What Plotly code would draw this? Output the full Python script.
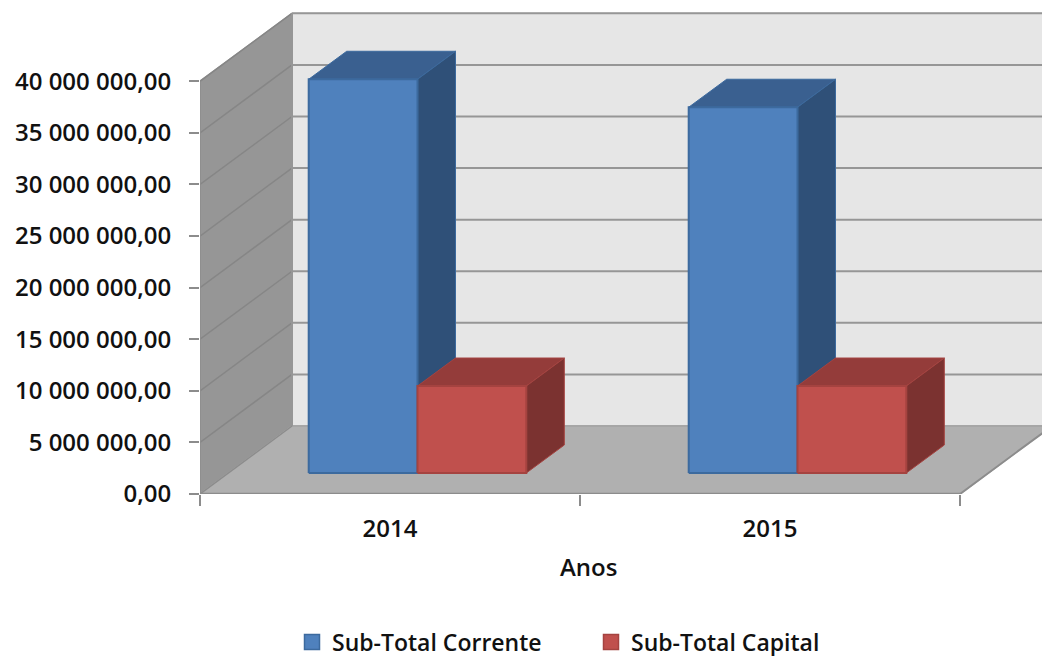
import plotly.graph_objects as go

years = ["2014", "2015"]
corrente = [38160000, 35450000]
capital = [8430000, 8430000]
names = ["Sub-Total Corrente", "Sub-Total Capital"]
tick_values = [0, 5000000, 10000000, 15000000, 20000000, 25000000, 30000000, 35000000, 40000000]
tick_labels = ["0,00", "5 000 000,00", "10 000 000,00", "15 000 000,00", "20 000 000,00",
               "25 000 000,00", "30 000 000,00", "35 000 000,00", "40 000 000,00"]

# pseudo-3D projection, in axis units
PX_X = 1 / 380.0
PX_Y = 40000000 / 412.7
wall_dx, wall_dy = 92 * PX_X, 68 * PX_Y
bar_dx, bar_dy = 38 * PX_X, 28 * PX_Y
inset_dx, inset_dy = 27.5 * PX_X, 21 * PX_Y
bar_w = 108.8 * PX_X
x_end = 2
top = tick_values[-1]
PLOT_H = 494

FONT = "Open Sans"
fig = go.Figure()


def poly(xs, ys, fill, line=None, lw=1.5):
    fig.add_trace(go.Scatter(x=xs + xs[:1], y=ys + ys[:1], mode="lines", fill="toself",
                             fillcolor=fill, line=dict(color=line or fill, width=lw),
                             showlegend=False, hoverinfo="skip"))


def path(xs, ys, color, lw=2):
    fig.add_trace(go.Scatter(x=xs, y=ys, mode="lines", line=dict(color=color, width=lw),
                             showlegend=False, hoverinfo="skip"))


# walls and floor
poly([wall_dx, x_end + wall_dx, x_end + wall_dx, wall_dx], [wall_dy, wall_dy, top + wall_dy, top + wall_dy], "#e6e6e6")
poly([0, 0, wall_dx, wall_dx], [0, top, top + wall_dy, wall_dy], "#969696")
poly([0, x_end, x_end + wall_dx, wall_dx], [0, 0, wall_dy, wall_dy], "#b0b0b0")
for v in tick_values[1:]:
    path([0, wall_dx], [v, v + wall_dy], "#868686", 1.5)
    path([wall_dx, x_end + wall_dx], [v + wall_dy, v + wall_dy], "#969696", 2)
path([wall_dx, x_end + wall_dx], [wall_dy, wall_dy], "#a6a6a6", 2)
path([wall_dx, wall_dx], [wall_dy, top + wall_dy], "#969696", 2)
path([0, wall_dx], [0, wall_dy], "#8c8c8c", 1.5)
path([x_end, x_end + wall_dx], [0, wall_dy], "#8c8c8c", 2)
path([0, x_end], [0, 0], "#8c8c8c", 2.5)
path([0, 0], [0, top], "#8c8c8c", 1.5)


def box(x0, value, front, side, cap, edge):
    x1, y0, y1 = x0 + bar_w, inset_dy, inset_dy + value
    poly([x0, x1, x1 + bar_dx, x0 + bar_dx], [y1, y1, y1 + bar_dy, y1 + bar_dy], cap, edge, 1)
    poly([x1, x1 + bar_dx, x1 + bar_dx, x1], [y0, y0 + bar_dy, y1 + bar_dy, y1], side, edge, 1)
    poly([x0, x1, x1, x0], [y0, y0, y1, y1], front, edge, 2)


for i in range(len(years)):
    left = i + 0.5 + inset_dx - bar_w
    box(left, corrente[i], "#4f81bd", "#2f5078", "#3a6090", "#3c6a9e")
    box(left + bar_w, capital[i], "#c0504d", "#7b3230", "#943c3a", "#a54340")

# legend keys
for name, fill, edge in zip(names, ["#4f81bd", "#c0504d"], ["#3c6a9e", "#a54340"]):
    fig.add_trace(go.Scatter(x=[None], y=[None], mode="markers", name=name,
                             marker=dict(symbol="square", size=15, color=fill, line=dict(color=edge, width=1.5))))

text_font = dict(family=FONT, size=24, color="#111111", weight=600)
legend_font = dict(family=FONT, size=23, color="#111111", weight=600)
HEIGHT = 690
fig.update_layout(
    width=1042, height=HEIGHT, margin=dict(l=200, r=0, t=0, b=HEIGHT - PLOT_H),
    paper_bgcolor="white", plot_bgcolor="white",
    xaxis=dict(range=[0, 842 * PX_X], showgrid=False, zeroline=False, showline=False,
               tickmode="array", tickvals=[i + 0.5 for i in range(len(years))], ticktext=years,
               ticks="", tickfont=text_font, ticklabelstandoff=18,
               minor=dict(tickmode="array", tickvals=[0, 1, 2], ticks="outside", ticklen=11,
                          tickwidth=2, tickcolor="#8c8c8c")),
    yaxis=dict(range=[0, PLOT_H * PX_Y], showgrid=False, zeroline=False, showline=False,
               tickmode="array", tickvals=tick_values, ticktext=tick_labels,
               ticks="outside", ticklen=10, tickwidth=2, tickcolor="#8c8c8c",
               tickfont=text_font, ticklabelstandoff=13),
    legend=dict(orientation="h", x=92 / 842, xanchor="left", y=-148 / PLOT_H, yanchor="middle",
                font=legend_font, itemsizing="trace", entrywidth=254, traceorder="normal",
                bgcolor="rgba(0,0,0,0)"),
    annotations=[dict(text="Anos", xref="x", yref="paper", x=388 * PX_X, y=-72 / PLOT_H, showarrow=False,
                      font=text_font, xanchor="center", yanchor="middle")],
)
fig.write_html("out.html", post_script="document.body.style.margin='0';document.body.style.overflow='hidden';",
               config=dict(displayModeBar=False))
